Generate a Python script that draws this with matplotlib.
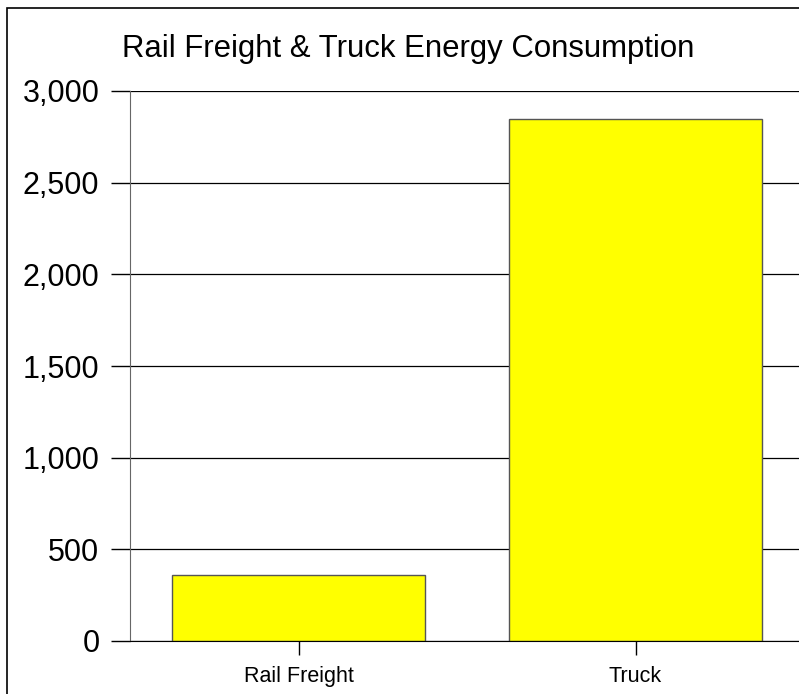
import matplotlib
matplotlib.use("Agg")
import matplotlib.pyplot as plt
from matplotlib.patches import Rectangle

categories = ["Rail Freight", "Truck"]
energy = [360, 2850]
y_ticks = [0, 500, 1000, 1500, 2000, 2500, 3000]

plt.rcParams["font.family"] = ["Liberation Sans", "DejaVu Sans"]

W, H = 799, 694
fig = plt.figure(figsize=(W / 100, H / 100), dpi=100)
fig.patch.set_facecolor("white")

# outer frame (cut off at right and bottom like the original)
fig.add_artist(Rectangle((7 / W, -0.1), 1.2, 1 - 8 / H + 0.1, transform=fig.transFigure,
                         fill=False, edgecolor="black", linewidth=1.2))

ax = fig.add_axes([130 / W, 1 - 641 / H, 674 / W, 550 / H])
ax.set_axisbelow(True)
ax.yaxis.grid(True, color="black", linewidth=0.9)
ax.bar(range(len(categories)), energy, width=0.75, color="#ffff00",
       edgecolor="#555555", linewidth=1.0)

ax.set_xlim(-0.5, len(categories) - 0.5)
ax.set_ylim(0, 3000)
ax.set_yticks(y_ticks)
ax.set_yticklabels([f"{v:,}" for v in y_ticks], fontsize=22)
ax.set_xticks(range(len(categories)))
ax.set_xticklabels(categories, fontsize=15.5)
ax.tick_params(axis="y", length=14, width=1, pad=8)
ax.tick_params(axis="x", length=10, width=1, pad=8)

for side in ["top", "right"]:
    ax.spines[side].set_visible(False)
ax.spines["left"].set_color("#666666")
ax.spines["bottom"].set_color("black")

fig.text(408 / W, 1 - 49 / H, "Rail Freight & Truck Energy Consumption",
         ha="center", va="center", fontsize=22.4)

fig.savefig("out.png", dpi=100)
